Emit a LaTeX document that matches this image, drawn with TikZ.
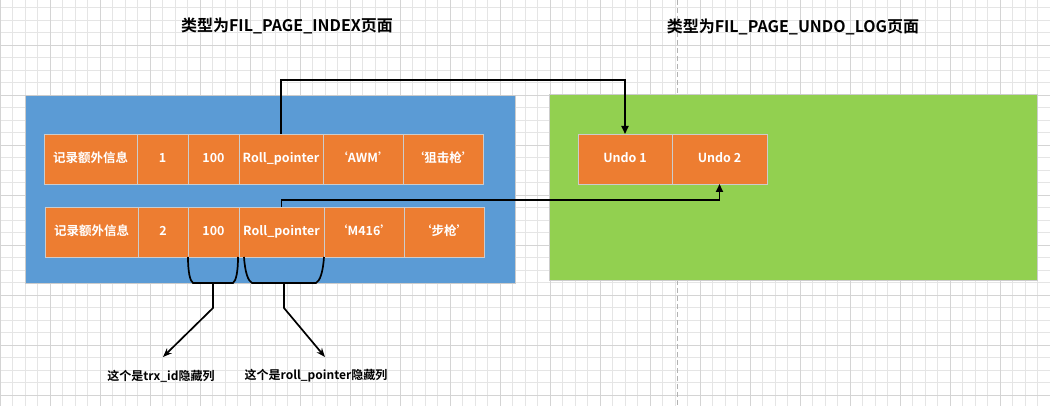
\documentclass[tikz,border=0pt]{standalone}
\usepackage{fontspec}
\setmainfont{Noto Sans CJK SC}[BoldFont={Noto Sans CJK SC Bold}]
\usetikzlibrary{positioning,arrows.meta}
\definecolor{cellorange}{HTML}{ED7D31}
\definecolor{idxblue}{HTML}{5B9BD5}
\definecolor{undogreen}{HTML}{92D050}
\definecolor{edgegray}{HTML}{CCCCCC}
\tikzset{
	cell/.style={draw=edgegray,fill=cellorange,text=white,line width=0.8pt,inner sep=0pt,outer sep=0pt,
		minimum height=50pt,text height=9pt,text depth=2.5pt,font=\bfseries\fontsize{12.5}{14}\selectfont},
	cw/.style={minimum width=#1pt},
	panel/.style={draw=edgegray,line width=0.8pt,anchor=north west,inner sep=0pt},
	pagetitle/.style={font=\bfseries\fontsize{16}{18}\selectfont},
	note/.style={font=\bfseries\fontsize{12}{14}\selectfont},
	ptr/.style={line width=1.7pt,-{Triangle[length=8pt,width=7pt]}},
	hint/.style={line width=1.7pt,-{Stealth[length=9pt,width=7pt]}},
	brace/.style={line width=1.7pt},
	gridminor/.style={draw=black!10,line width=0.6pt},
	gridmajor/.style={draw=black!17,line width=0.6pt},
	pagebreak/.style={draw=black!30,line width=0.8pt,dash pattern=on 5pt off 3pt}
}
\begin{document}
\begin{tikzpicture}[x=1pt,y=-1pt]
	\useasboundingbox (0,0) rectangle (1050,406);
	\begin{scope}[yshift=-7.5pt]
		\draw[gridminor,step=12.5pt] (0,-7.5) grid (1050,398.5);
	\end{scope}
	\begin{scope}[yshift=-45pt]
		\draw[gridmajor,step=50pt] (0,-45) grid (1050,361);
	\end{scope}
	\draw[pagebreak] (677,0) -- (677,406);

	\node[pagetitle] (idxtitle) at (287,26) {类型为FIL\_PAGE\_INDEX页面};
	\node[pagetitle] (undotitle) at (793,27) {类型为FIL\_PAGE\_UNDO\_LOG页面};

	\node[panel,fill=idxblue,minimum width=490pt,minimum height=188pt] (idx) at (25,95) {};
	\node[panel,fill=undogreen,minimum width=488pt,minimum height=186pt] (undo) at (549,94) {};

	\node[cell,cw=93,anchor=north west] (a1) at (44,134) {记录额外信息};
	\node[cell,cw=51,right=0pt of a1] (a2) {1};
	\node[cell,cw=51,right=0pt of a2] (a3) {100};
	\node[cell,cw=84,right=0pt of a3] (a4) {Roll\_pointer};
	\node[cell,cw=80,right=0pt of a4] (a5) {‘AWM’};
	\node[cell,cw=80,right=0pt of a5] (a6) {‘狙击枪’};

	\node[cell,cw=93,anchor=north west] (b1) at (45,207) {记录额外信息};
	\node[cell,cw=50,right=0pt of b1] (b2) {2};
	\node[cell,cw=51,right=0pt of b2] (b3) {100};
	\node[cell,cw=85,right=0pt of b3] (b4) {Roll\_pointer};
	\node[cell,cw=80,right=0pt of b4] (b5) {‘M416’};
	\node[cell,cw=80,right=0pt of b5] (b6) {‘步枪’};

	\node[cell,cw=94,anchor=north west] (u1) at (578,134) {Undo 1};
	\node[cell,cw=95,right=0pt of u1] (u2) {Undo 2};

	\draw[ptr] (a4.north) -- ++(0,-54) -| (u1.north);
	\draw[ptr] (b4.north) -- ++(0,-7) -| (u2.south);

	\draw[brace] (188,257) .. controls (188,272) and (190,281) .. (193,283) -- (233,283)
		.. controls (236,281) and (238,272) .. (238,257);
	\draw[brace] (244,257) .. controls (245,272) and (248,281) .. (252,283) -- (316,283)
		.. controls (320,281) and (323,272) .. (324,257);
	\coordinate (trxbot) at (213,283);
	\coordinate (rpbot) at (284,283);
	\coordinate (trxtip) at (163,357);
	\coordinate (rptip) at (325,357);
	\draw[hint] (trxbot) -- ++(0,25) -- (trxtip);
	\draw[hint] (rpbot) -- ++(0,25) -- (rptip);

	\node[note] (trxnote) at (161,376) {这个是trx\_id隐藏列};
	\node[note] (rpnote) at (316,376) {这个是roll\_pointer隐藏列};
\end{tikzpicture}
\end{document}
